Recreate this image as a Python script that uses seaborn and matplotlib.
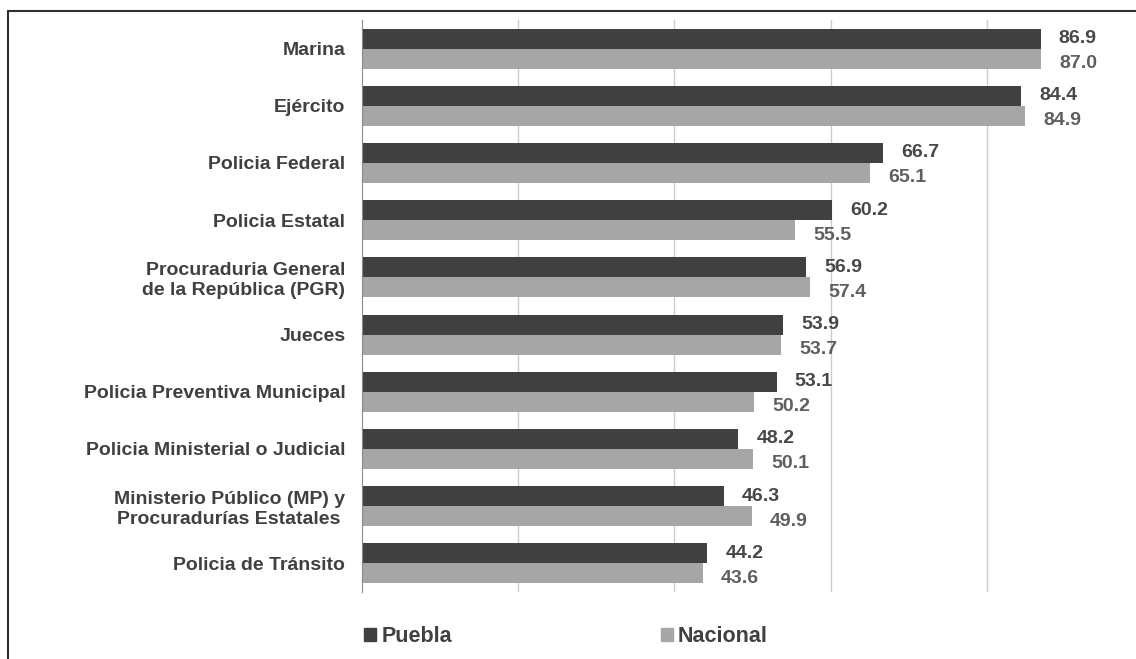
import matplotlib
matplotlib.use("Agg")
import matplotlib.pyplot as plt
from matplotlib.patches import Patch, Rectangle
import seaborn as sns
import pandas as pd

# values
categories = [
    "Marina",
    "Ejército",
    "Policia Federal",
    "Policia Estatal",
    "Procuraduria General\nde la República (PGR)",
    "Jueces",
    "Policia Preventiva Municipal",
    "Policia Ministerial o Judicial",
    "Ministerio Público (MP) y\nProcuradurías Estatales ",
    "Policia de Tránsito",
]
puebla = [86.9, 84.4, 66.7, 60.2, 56.9, 53.9, 53.1, 48.2, 46.3, 44.2]
nacional = [87.0, 84.9, 65.1, 55.5, 57.4, 53.7, 50.2, 50.1, 49.9, 43.6]
series = ["Puebla", "Nacional"]
colors = ["#404040", "#a6a6a6"]
label_colors = ["#474747", "#5f5f5f"]

df = pd.DataFrame({
    "Institución": categories * 2,
    "Serie": [series[0]] * len(categories) + [series[1]] * len(categories),
    "Valor": puebla + nacional,
})

sns.set_style("white")
plt.rcParams["font.family"] = ["Liberation Sans", "DejaVu Sans"]

W, H = 1136, 659
fig = plt.figure(figsize=(W / 100, H / 100), dpi=100)
# axis spans 0..100; right end falls outside the picture like in the reference
ax = fig.add_axes([362 / W, 1 - 592 / H, 781 / W, (592 - 20) / H])

sns.barplot(data=df, y="Institución", x="Valor", hue="Serie", orient="h",
            palette=colors, width=0.7, saturation=1, linewidth=0,
            ax=ax, legend=False)

ax.set_xlim(0, 100)
ax.set_ylim(len(categories) - 0.5, -0.5)
ax.set_xlabel("")
ax.set_ylabel("")
ax.set_xticks([20, 40, 60, 80, 100])
ax.set_xticklabels([])
ax.tick_params(axis="x", length=0)
ax.grid(axis="x", color="#cccccc", lw=1)
ax.set_axisbelow(True)
for s in ["top", "right", "bottom"]:
    ax.spines[s].set_visible(False)
ax.spines["left"].set_color("#8a8a8a")

ax.tick_params(axis="y", which="major", length=0, pad=12)
ax.set_yticks([i + 0.5 for i in range(-1, len(categories))], minor=True)
ax.tick_params(axis="y", which="minor", length=4, color="#8a8a8a", direction="out")
for t in ax.get_yticklabels():
    t.set_fontsize(14)
    t.set_fontweight("bold")
    t.set_color("#404040")
    t.set_multialignment("right")

for i, cont in enumerate(ax.containers):
    labels = ax.bar_label(cont, fmt="%.1f", padding=13, fontsize=14,
                          fontweight="bold", color=label_colors[i])
    if i == 1:
        for t in labels:
            t.xyann = (t.xyann[0], -3.5)

handles = [Patch(color=c) for c in colors]
fig.legend(handles, series, loc="center left",
           bbox_to_anchor=(364 / W, 1 - 637 / H), ncol=2, frameon=False,
           handlelength=0.55, handleheight=0.55, handletextpad=0.25,
           columnspacing=9.7, borderpad=0, borderaxespad=0,
           prop={"size": 15.5, "weight": "bold"}, labelcolor="#404040")

fig.add_artist(Rectangle((8 / W, -0.1), 1.2, 1.1 - 11 / H, transform=fig.transFigure,
                         fill=False, ec="#303030", lw=1.5))

fig.savefig("out.png", dpi=100)
